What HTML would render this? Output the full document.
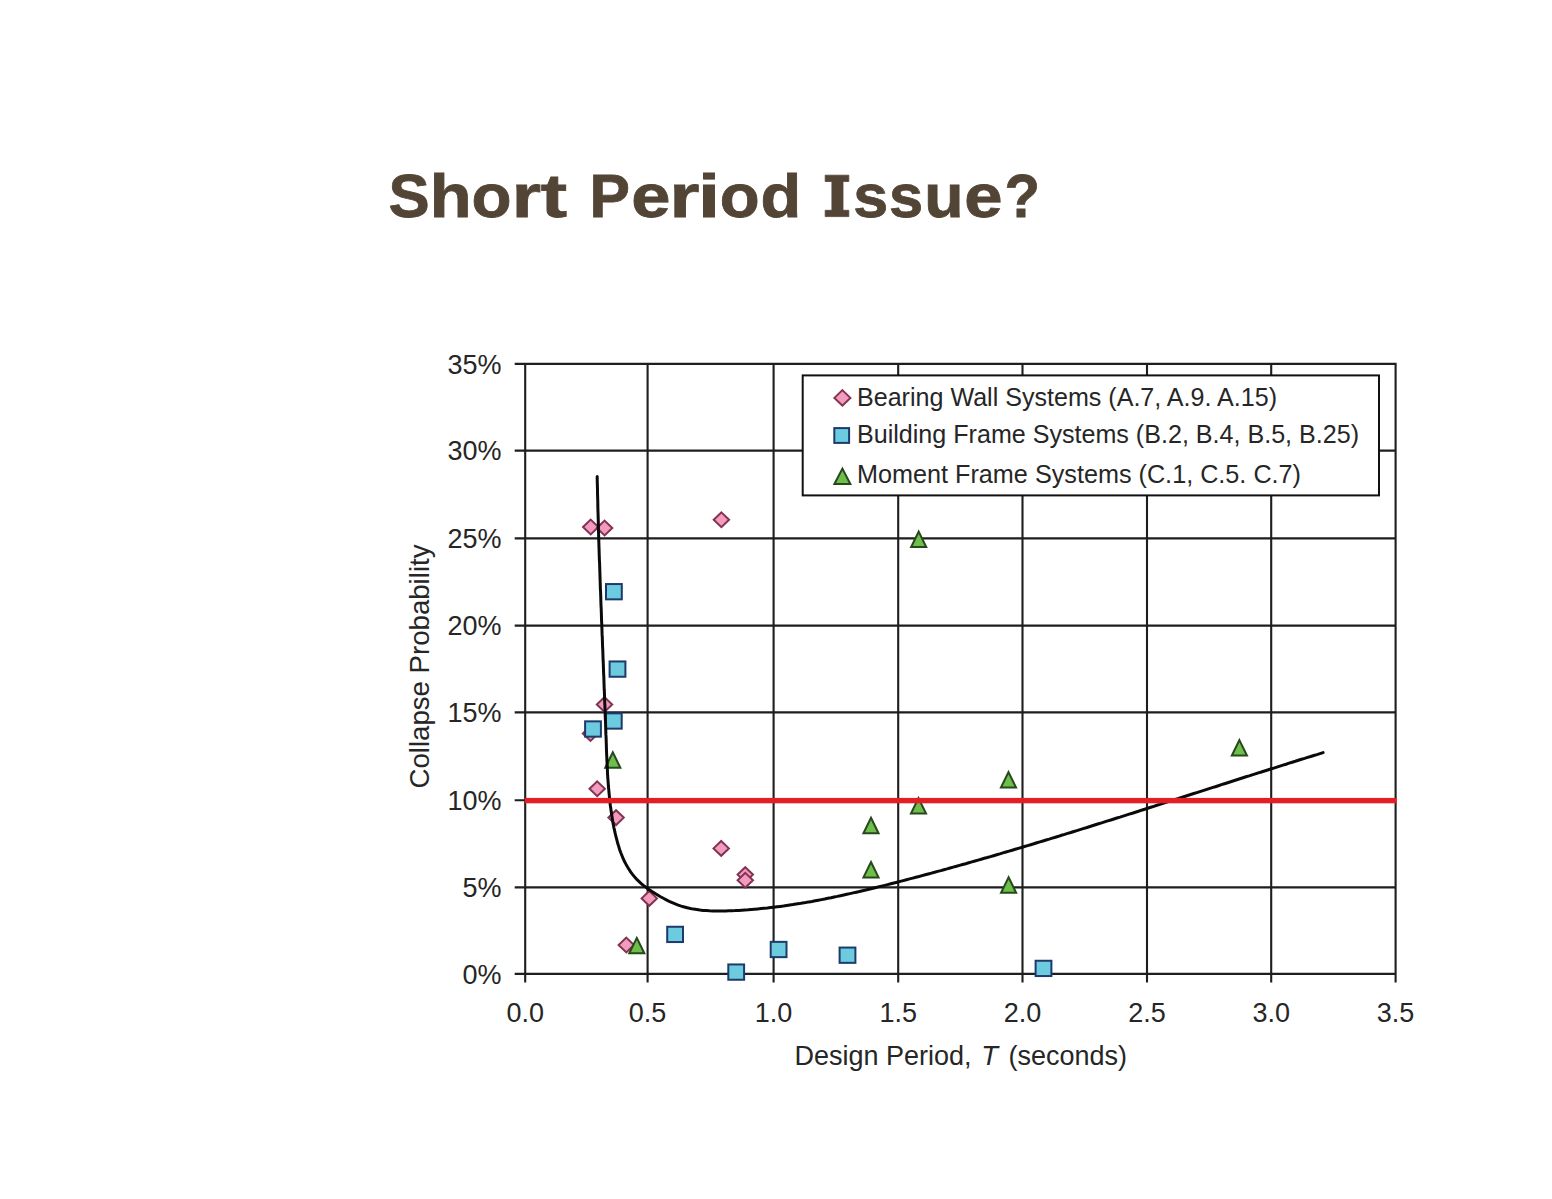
<!DOCTYPE html><html><head><meta charset="utf-8"><style>html,body{margin:0;padding:0;background:#fff;}svg{display:block;}text{font-family:"Liberation Sans",sans-serif;}</style></head><body>
<svg width="1552" height="1199" viewBox="0 0 1552 1199">
<rect width="1552" height="1199" fill="#ffffff"/>
<g fill="#524536" stroke="#524536" stroke-width="0.8"><text transform="translate(388.38 216.8) scale(1.0110 1)" font-size="61" font-weight="bold">S</text><text transform="translate(429.77 216.8) scale(1.1233 1)" font-size="61" font-weight="bold">h</text><text transform="translate(471.42 216.8) scale(1.0738 1)" font-size="61" font-weight="bold">o</text><text transform="translate(511.66 216.8) scale(1.2340 1)" font-size="61" font-weight="bold">r</text><text transform="translate(540.79 216.8) scale(1.2963 1)" font-size="61" font-weight="bold">t</text><text transform="translate(589.52 216.8) scale(0.9942 1)" font-size="61" font-weight="bold">P</text><text transform="translate(631.32 216.8) scale(1.1565 1)" font-size="61" font-weight="bold">e</text><text transform="translate(669.56 216.8) scale(1.2606 1)" font-size="61" font-weight="bold">r</text><text transform="translate(698.10 216.8) scale(1.3012 1)" font-size="61" font-weight="bold">i</text><text transform="translate(719.73 216.8) scale(1.0708 1)" font-size="61" font-weight="bold">o</text><text transform="translate(760.46 216.8) scale(1.0945 1)" font-size="61" font-weight="bold">d</text><text transform="translate(853.33 216.8) scale(1.0308 1)" font-size="61" font-weight="bold">s</text><text transform="translate(888.88 216.8) scale(1.0068 1)" font-size="61" font-weight="bold">s</text><text transform="translate(924.19 216.8) scale(1.0544 1)" font-size="61" font-weight="bold">u</text><text transform="translate(964.19 216.8) scale(1.1293 1)" font-size="61" font-weight="bold">e</text><text transform="translate(1004.44 216.8) scale(0.9515 1)" font-size="61" font-weight="bold">?</text><path d="M825.2 175.2H848.8V181.5H843V210.3H848.8V216.6H825.2V210.3H831.9V181.5H825.2Z"/></g>
<path d="M525.2 363.0V982.4M647.6 363.0V982.4M773.6 363.0V982.4M898.2 363.0V982.4M1022.5 363.0V982.4M1147.0 363.0V982.4M1271.2 363.0V982.4M1395.6 363.0V982.4M514.7 973.9H1396.5M514.7 887.4H1396.5M514.7 800.3H1396.5M514.7 712.4H1396.5M514.7 625.6H1396.5M514.7 538.4H1396.5M514.7 450.6H1396.5M514.7 363.9H1396.5" stroke="#1e1e1e" stroke-width="2.1" fill="none" stroke-linecap="butt"/>
<text x="501.5" y="983.5" font-size="27" fill="#262626" text-anchor="end">0%</text>
<text x="501.5" y="897.0" font-size="27" fill="#262626" text-anchor="end">5%</text>
<text x="501.5" y="809.9" font-size="27" fill="#262626" text-anchor="end">10%</text>
<text x="501.5" y="722.0" font-size="27" fill="#262626" text-anchor="end">15%</text>
<text x="501.5" y="635.2" font-size="27" fill="#262626" text-anchor="end">20%</text>
<text x="501.5" y="548.0" font-size="27" fill="#262626" text-anchor="end">25%</text>
<text x="501.5" y="460.2" font-size="27" fill="#262626" text-anchor="end">30%</text>
<text x="501.5" y="373.5" font-size="27" fill="#262626" text-anchor="end">35%</text>
<text x="525.2" y="1022.3" font-size="27" fill="#262626" text-anchor="middle">0.0</text>
<text x="647.6" y="1022.3" font-size="27" fill="#262626" text-anchor="middle">0.5</text>
<text x="773.6" y="1022.3" font-size="27" fill="#262626" text-anchor="middle">1.0</text>
<text x="898.2" y="1022.3" font-size="27" fill="#262626" text-anchor="middle">1.5</text>
<text x="1022.5" y="1022.3" font-size="27" fill="#262626" text-anchor="middle">2.0</text>
<text x="1147.0" y="1022.3" font-size="27" fill="#262626" text-anchor="middle">2.5</text>
<text x="1271.2" y="1022.3" font-size="27" fill="#262626" text-anchor="middle">3.0</text>
<text x="1395.6" y="1022.3" font-size="27" fill="#262626" text-anchor="middle">3.5</text>
<text x="794.6" y="1065.3" font-size="27.4" fill="#262626" textLength="177" lengthAdjust="spacingAndGlyphs">Design Period,</text>
<text x="981.2" y="1065.3" font-size="27.4" font-style="italic" fill="#262626">T</text>
<text x="1008.6" y="1065.3" font-size="27.4" fill="#262626" textLength="118.5" lengthAdjust="spacingAndGlyphs">(seconds)</text>
<text transform="translate(429.4 788.5) rotate(-90)" x="0" y="0" font-size="27.6" fill="#262626" textLength="244" lengthAdjust="spacingAndGlyphs">Collapse Probability</text>
<path d="M590.7 519.6L598.4000000000001 527.0L590.7 534.4L583.0 527.0Z" fill="#f39ac0" stroke="#80344f" stroke-width="2"/>
<path d="M604.6 520.6L612.3000000000001 528.0L604.6 535.4L596.9 528.0Z" fill="#f39ac0" stroke="#80344f" stroke-width="2"/>
<path d="M721.4 512.4L729.1 519.8L721.4 527.1999999999999L713.6999999999999 519.8Z" fill="#f39ac0" stroke="#80344f" stroke-width="2"/>
<path d="M604.5 697.1L612.2 704.5L604.5 711.9L596.8 704.5Z" fill="#f39ac0" stroke="#80344f" stroke-width="2"/>
<path d="M590.5 726.1L598.2 733.5L590.5 740.9L582.8 733.5Z" fill="#f39ac0" stroke="#80344f" stroke-width="2"/>
<path d="M597.2 781.4L604.9000000000001 788.8L597.2 796.1999999999999L589.5 788.8Z" fill="#f39ac0" stroke="#80344f" stroke-width="2"/>
<path d="M616.1 810.2L623.8000000000001 817.6L616.1 825.0L608.4 817.6Z" fill="#f39ac0" stroke="#80344f" stroke-width="2"/>
<path d="M721.2 841.0L728.9000000000001 848.4L721.2 855.8L713.5 848.4Z" fill="#f39ac0" stroke="#80344f" stroke-width="2"/>
<path d="M745.3 867.2L753.0 874.6L745.3 882.0L737.5999999999999 874.6Z" fill="#f39ac0" stroke="#80344f" stroke-width="2"/>
<path d="M745.3 872.9L753.0 880.3L745.3 887.6999999999999L737.5999999999999 880.3Z" fill="#f39ac0" stroke="#80344f" stroke-width="2"/>
<path d="M649.3 891.0L657.0 898.4L649.3 905.8L641.5999999999999 898.4Z" fill="#f39ac0" stroke="#80344f" stroke-width="2"/>
<path d="M626.3 937.6L634.0 945.0L626.3 952.4L618.5999999999999 945.0Z" fill="#f39ac0" stroke="#80344f" stroke-width="2"/>
<rect x="606.0" y="584.0500000000001" width="15.8" height="15.3" fill="#6ccbdf" stroke="#1d3a6b" stroke-width="2"/>
<rect x="609.6" y="661.45" width="15.8" height="15.3" fill="#6ccbdf" stroke="#1d3a6b" stroke-width="2"/>
<rect x="605.9" y="713.35" width="15.8" height="15.3" fill="#6ccbdf" stroke="#1d3a6b" stroke-width="2"/>
<rect x="585.1" y="721.35" width="15.8" height="15.3" fill="#6ccbdf" stroke="#1d3a6b" stroke-width="2"/>
<rect x="667.2" y="926.75" width="15.8" height="15.3" fill="#6ccbdf" stroke="#1d3a6b" stroke-width="2"/>
<rect x="728.3000000000001" y="964.45" width="15.8" height="15.3" fill="#6ccbdf" stroke="#1d3a6b" stroke-width="2"/>
<rect x="770.7" y="941.85" width="15.8" height="15.3" fill="#6ccbdf" stroke="#1d3a6b" stroke-width="2"/>
<rect x="839.6" y="947.5500000000001" width="15.8" height="15.3" fill="#6ccbdf" stroke="#1d3a6b" stroke-width="2"/>
<rect x="1035.6" y="960.75" width="15.8" height="15.3" fill="#6ccbdf" stroke="#1d3a6b" stroke-width="2"/>
<path d="M918.7 531.5999999999999L926.25 547.0L911.1500000000001 547.0Z" fill="#6dbe4a" stroke="#27481d" stroke-width="2" stroke-linejoin="miter"/>
<path d="M1239.4 740.0999999999999L1246.95 755.5L1231.8500000000001 755.5Z" fill="#6dbe4a" stroke="#27481d" stroke-width="2" stroke-linejoin="miter"/>
<path d="M612.8 752.3L620.3499999999999 767.7L605.25 767.7Z" fill="#6dbe4a" stroke="#27481d" stroke-width="2" stroke-linejoin="miter"/>
<path d="M1008.5 772.0999999999999L1016.05 787.5L1000.95 787.5Z" fill="#6dbe4a" stroke="#27481d" stroke-width="2" stroke-linejoin="miter"/>
<path d="M918.5 798.0999999999999L926.05 813.5L910.95 813.5Z" fill="#6dbe4a" stroke="#27481d" stroke-width="2" stroke-linejoin="miter"/>
<path d="M871.0 817.8L878.55 833.2L863.45 833.2Z" fill="#6dbe4a" stroke="#27481d" stroke-width="2" stroke-linejoin="miter"/>
<path d="M871.0 861.9999999999999L878.55 877.4L863.45 877.4Z" fill="#6dbe4a" stroke="#27481d" stroke-width="2" stroke-linejoin="miter"/>
<path d="M1008.6 877.3L1016.15 892.7L1001.0500000000001 892.7Z" fill="#6dbe4a" stroke="#27481d" stroke-width="2" stroke-linejoin="miter"/>
<path d="M636.8 937.8999999999999L644.3499999999999 953.3L629.25 953.3Z" fill="#6dbe4a" stroke="#27481d" stroke-width="2" stroke-linejoin="miter"/>
<path d="M597.2 476.4 L597.2 479.6 L597.3 482.8 L597.4 486.1 L597.5 489.3 L597.5 492.5 L597.6 495.8 L597.7 499.0 L597.8 502.2 L597.8 505.4 L597.9 508.7 L598.0 511.9 L598.1 515.1 L598.2 518.3 L598.3 521.6 L598.4 524.8 L598.4 528.0 L598.5 531.3 L598.6 534.5 L598.7 537.7 L598.8 540.9 L598.9 544.2 L599.0 547.4 L599.1 550.6 L599.2 553.8 L599.3 557.1 L599.4 560.3 L599.6 563.5 L599.7 566.7 L599.8 569.9 L599.9 573.2 L600.0 576.4 L600.1 579.6 L600.2 582.8 L600.3 586.1 L600.4 589.3 L600.6 592.5 L600.7 595.7 L600.8 599.0 L600.9 602.2 L601.0 605.4 L601.2 608.6 L601.3 611.8 L601.4 615.1 L601.5 618.3 L601.6 621.5 L601.8 624.7 L601.9 628.0 L602.0 631.2 L602.1 634.4 L602.3 637.6 L602.4 640.9 L602.5 644.1 L602.6 647.3 L602.8 650.5 L602.9 653.7 L603.0 657.0 L603.1 660.2 L603.3 663.4 L603.4 666.6 L603.5 669.9 L603.6 673.1 L603.8 676.3 L603.9 679.5 L604.0 682.8 L604.1 686.0 L604.2 689.2 L604.4 692.4 L604.5 695.7 L604.6 698.9 L604.7 702.1 L604.9 705.3 L605.0 708.6 L605.1 711.8 L605.2 715.0 L605.3 718.2 L605.5 721.5 L605.6 724.7 L605.7 727.9 L605.8 731.1 L605.9 734.4 L606.1 737.6 L606.2 740.8 L606.3 744.1 L606.4 747.3 L606.5 750.5 L606.6 753.7 L606.8 757.0 L606.9 760.2 L607.1 763.4 L607.2 766.7 L607.4 769.9 L607.5 773.1 L607.7 776.3 L607.9 779.5 L608.2 782.8 L608.4 786.0 L608.7 789.2 L609.0 792.4 L609.3 795.6 L609.6 798.8 L610.0 802.0 L610.3 805.2 L610.8 808.4 L611.2 811.6 L611.7 814.8 L612.2 818.0 L612.7 821.2 L613.3 824.4 L613.9 827.6 L614.6 830.7 L615.3 833.9 L616.1 837.1 L616.9 840.2 L617.7 843.3 L618.7 846.4 L619.6 849.5 L620.7 852.5 L621.9 855.5 L623.1 858.4 L624.4 861.3 L625.9 864.1 L627.4 866.8 L629.1 869.5 L630.8 872.1 L632.7 874.6 L634.7 877.1 L636.8 879.4 L639.1 881.6 L641.5 883.8 L644.0 885.8 L646.6 887.8 L649.2 889.7 L652.0 891.6 L654.8 893.3 L657.6 895.0 L660.5 896.7 L663.4 898.3 L666.3 899.8 L669.2 901.3 L672.2 902.6 L675.2 903.9 L678.2 905.1 L681.2 906.1 L684.3 907.0 L687.3 907.8 L690.4 908.5 L693.6 909.1 L696.7 909.6 L699.9 910.1 L703.1 910.4 L706.2 910.6 L709.4 910.8 L712.7 910.9 L715.9 911.0 L719.1 911.0 L722.3 911.0 L725.6 910.9 L728.8 910.8 L732.0 910.7 L735.2 910.6 L738.5 910.4 L741.7 910.2 L744.9 910.0 L748.1 909.8 L751.3 909.5 L754.6 909.2 L757.8 908.9 L761.0 908.6 L764.2 908.3 L767.4 908.0 L770.6 907.6 L773.8 907.2 L777.0 906.8 L780.2 906.4 L783.4 906.0 L786.6 905.5 L789.7 905.0 L792.9 904.6 L796.1 904.1 L799.3 903.6 L802.5 903.0 L805.7 902.5 L808.8 901.9 L812.0 901.4 L815.2 900.8 L818.4 900.2 L821.5 899.6 L824.7 899.0 L827.9 898.3 L831.0 897.7 L834.2 897.0 L837.3 896.4 L840.5 895.7 L843.7 895.0 L846.8 894.3 L850.0 893.6 L853.1 892.9 L856.3 892.2 L859.4 891.5 L862.6 890.7 L865.7 890.0 L868.9 889.2 L872.0 888.5 L875.1 887.7 L878.3 886.9 L881.4 886.1 L884.6 885.4 L887.7 884.6 L890.8 883.8 L894.0 883.0 L897.1 882.2 L900.2 881.4 L903.3 880.6 L906.5 879.7 L909.6 878.9 L912.7 878.1 L915.9 877.3 L919.0 876.5 L922.1 875.6 L925.2 874.8 L928.3 874.0 L931.5 873.1 L934.6 872.3 L937.7 871.4 L940.8 870.6 L943.9 869.7 L947.0 868.9 L950.1 868.0 L953.2 867.1 L956.4 866.3 L959.5 865.4 L962.6 864.5 L965.7 863.7 L968.8 862.8 L971.9 861.9 L975.0 861.0 L978.1 860.1 L981.2 859.2 L984.3 858.3 L987.4 857.5 L990.5 856.6 L993.6 855.7 L996.7 854.8 L999.8 853.9 L1002.9 852.9 L1006.0 852.0 L1009.1 851.1 L1012.2 850.2 L1015.2 849.3 L1018.3 848.4 L1021.4 847.5 L1024.5 846.5 L1027.6 845.6 L1030.7 844.7 L1033.8 843.8 L1036.9 842.8 L1040.0 841.9 L1043.0 841.0 L1046.1 840.0 L1049.2 839.1 L1052.3 838.1 L1055.4 837.2 L1058.5 836.3 L1061.5 835.3 L1064.6 834.4 L1067.7 833.4 L1070.8 832.5 L1073.9 831.5 L1076.9 830.6 L1080.0 829.6 L1083.1 828.6 L1086.2 827.7 L1089.3 826.7 L1092.3 825.8 L1095.4 824.8 L1098.5 823.8 L1101.6 822.9 L1104.6 821.9 L1107.7 820.9 L1110.8 820.0 L1113.9 819.0 L1116.9 818.0 L1120.0 817.1 L1123.1 816.1 L1126.2 815.1 L1129.2 814.1 L1132.3 813.2 L1135.4 812.2 L1138.5 811.2 L1141.5 810.2 L1144.6 809.3 L1147.7 808.3 L1150.8 807.3 L1153.8 806.3 L1156.9 805.3 L1160.0 804.4 L1163.0 803.4 L1166.1 802.4 L1169.2 801.4 L1172.3 800.4 L1175.3 799.4 L1178.4 798.5 L1181.5 797.5 L1184.6 796.5 L1187.6 795.5 L1190.7 794.5 L1193.8 793.5 L1196.8 792.6 L1199.9 791.6 L1203.0 790.6 L1206.1 789.6 L1209.1 788.6 L1212.2 787.6 L1215.3 786.7 L1218.4 785.7 L1221.4 784.7 L1224.5 783.7 L1227.6 782.7 L1230.7 781.7 L1233.7 780.8 L1236.8 779.8 L1239.9 778.8 L1243.0 777.8 L1246.0 776.8 L1249.1 775.9 L1252.2 774.9 L1255.3 773.9 L1258.3 772.9 L1261.4 772.0 L1264.5 771.0 L1267.6 770.0 L1270.6 769.0 L1273.7 768.1 L1276.8 767.1 L1279.9 766.1 L1283.0 765.1 L1286.1 764.2 L1289.1 763.2 L1292.2 762.2 L1295.3 761.3 L1298.4 760.3 L1301.5 759.3 L1304.6 758.4 L1307.6 757.4 L1310.7 756.5 L1313.8 755.5 L1316.9 754.6 L1320.0 753.6 L1323.1 752.6" stroke="#0a0a0a" stroke-width="3" fill="none" stroke-linecap="round"/>
<rect x="524.7" y="797.9" width="871.8999999999999" height="5.4" fill="#e31e25"/>
<rect x="802.7" y="375.4" width="576.3" height="120" fill="#ffffff" stroke="#111" stroke-width="2"/>
<path d="M842.4 390.09999999999997L850.4 397.9L842.4 405.7L834.4 397.9Z" fill="#f39ac0" stroke="#80344f" stroke-width="2"/>
<rect x="834.3000000000001" y="428.1" width="14.8" height="14.8" fill="#6ccbdf" stroke="#1d3a6b" stroke-width="2"/>
<path d="M842.4 468.6L850.4 484.0L834.4 484.0Z" fill="#6dbe4a" stroke="#27481d" stroke-width="2" stroke-linejoin="miter"/>
<text x="857" y="406" font-size="25.6" fill="#262626" textLength="420" lengthAdjust="spacingAndGlyphs">Bearing Wall Systems (A.7, A.9. A.15)</text>
<text x="857" y="443.3" font-size="25.6" fill="#262626" textLength="502" lengthAdjust="spacingAndGlyphs">Building Frame Systems (B.2, B.4, B.5, B.25)</text>
<text x="857" y="482.9" font-size="25.6" fill="#262626" textLength="444" lengthAdjust="spacingAndGlyphs">Moment Frame Systems (C.1, C.5. C.7)</text>
</svg></body></html>
